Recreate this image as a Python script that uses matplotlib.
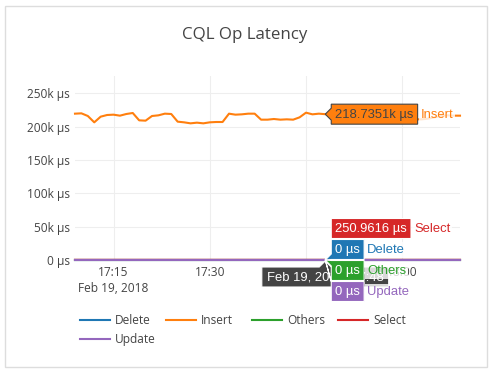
import matplotlib
matplotlib.use('Agg')
import matplotlib.pyplot as plt
import matplotlib.dates as mdates
from matplotlib.patches import Polygon, Rectangle
from matplotlib.lines import Line2D
from matplotlib.transforms import IdentityTransform
import pandas as pd

# data, one point per minute
times = pd.date_range('2018-02-19 17:09', '2018-02-19 18:09', freq='1min').to_pydatetime()

insert = [219500, 220000, 216000, 206500, 215000, 217500, 218000, 216500, 219000, 220500,
          209500, 209000, 216000, 217000, 219500, 219000, 207500, 206500, 205000, 206000,
          205000, 206500, 207000, 207000, 219500, 218000, 218500, 219500, 219500, 210500,
          210500, 211500, 210500, 211000, 210500, 214000, 221000, 218500, 219500, 218735.1,
          218000, 219000, 216000, 212000, 210000, 211000, 213000, 215000, 218000, 220000,
          219000, 217000, 213000, 211000, 211000, 212000, 214000, 216000, 217000, 216500,
          216500]
select = [248.2, 251.0, 249.5, 252.3, 250.1, 247.8, 249.9, 251.4, 250.6, 248.7,
          249.3, 252.0, 250.8, 249.1, 251.7, 250.2, 248.9, 249.6, 251.2, 250.4,
          249.8, 248.5, 250.9, 251.5, 249.2, 250.3, 252.1, 249.7, 250.5, 248.8,
          251.1, 250.0, 249.4, 251.8, 250.7, 248.6, 249.9, 251.3, 250.2, 250.9616,
          249.5, 250.8, 251.6, 249.0, 250.4, 248.9, 251.2, 250.1, 249.7, 250.6,
          251.0, 249.3, 250.5, 248.7, 251.4, 250.0, 249.8, 250.9, 251.1, 249.6,
          250.3]
delete = [0] * len(times)
others = [0] * len(times)
update = [0] * len(times)

names = ['Delete', 'Insert', 'Others', 'Select', 'Update']
series = [delete, insert, others, select, update]
colors = ['#1f77b4', '#ff7f0e', '#2ca02c', '#d62728', '#9467bd']

yticks = [0, 50000, 100000, 150000, 200000, 250000]
ylabels = ['0 µs', '50k µs', '100k µs', '150k µs', '200k µs', '250k µs']
xticks = pd.to_datetime(['2018-02-19 17:15', '2018-02-19 17:30',
                         '2018-02-19 17:45', '2018-02-19 18:00']).to_pydatetime()
xlabels = ['17:15\nFeb 19, 2018', '17:30', '17:45', '18:00']

hover_i = 39
hover_date = 'Feb 19, 2018, 17:48'

TXT = '#444444'
FONT = 'Open Sans'
HFONT = 'Liberation Sans'
W, H = 491, 374

fig = plt.figure(figsize=(W / 100, H / 100), dpi=100)
ax = fig.add_axes([75 / W, 114 / H, 385 / W, 184 / H])

for name, vals, c in zip(names, series, colors):
    ax.plot(times, vals, color=c, lw=1.5, label=name, clip_on=False, zorder=3)

ax.set_xlim(times[0], times[-1])
ax.set_ylim(0, 276000)
ax.set_yticks(yticks)
ax.set_yticklabels(ylabels, fontsize=8.6, color=TXT, family=FONT)
ax.set_xticks(xticks)
ax.set_xticklabels(xlabels, fontsize=8.6, color=TXT, family=FONT, linespacing=1.3)
ax.tick_params(length=0)
ax.tick_params(axis='y', pad=3.5)
ax.tick_params(axis='x', pad=4)
ax.grid(True, color='#eeeeee', lw=0.8)
ax.set_axisbelow(True)
for s in ax.spines.values():
    s.set_visible(False)

fig.text(245 / W, 1 - 35 / H, 'CQL Op Latency', ha='center', va='center',
         fontsize=12.2, color=TXT, family=FONT)

# outer card border
fig.add_artist(Rectangle((4.5, 7.5), 482, 361, transform=IdentityTransform(),
                         fill=False, ec='#dddddd', lw=1))

# legend, drawn by hand (plotly style)
for i, (name, c) in enumerate(zip(names, colors)):
    row, col = divmod(i, 4)
    x = 80 + col * 86
    y = 54 - row * 19
    fig.add_artist(Line2D([x, x + 30], [y, y], color=c, lw=1.5,
                          transform=IdentityTransform()))
    fig.text(x + 35, y, name, transform=IdentityTransform(), ha='left', va='center',
             fontsize=8.6, color=TXT, family=FONT)

# hover labels
ident = IdentityTransform()
renderer = fig.canvas.get_renderer()
hx = mdates.date2num(times[hover_i])


def hover_box(tip, yc, text, fc, tc, ec, name=None, ncolor=None, z=10):
    x0 = tip[0] + 6
    t = fig.text(x0 + 4, yc - 0.5, text, transform=ident, ha='left', va='center',
                 fontsize=9.4, color=tc, family=HFONT, zorder=z + 1)
    bb = t.get_window_extent(renderer)
    x1 = bb.x1 + 4
    top, bot = yc + 10, yc - 10
    a_hi = min(max(tip[1] + 6, bot), top)
    a_lo = min(max(tip[1] - 6, bot), top)
    fig.add_artist(Polygon([tip, (x0, a_lo), (x0, bot), (x1, bot), (x1, top),
                            (x0, top), (x0, a_hi)], closed=True, fc=fc, ec=ec,
                           lw=0.8, transform=ident, zorder=z))
    if name:
        fig.text(x1 + 3, yc - 0.5, name, transform=ident, ha='left', va='center',
                 fontsize=9.4, color=ncolor, family=HFONT, zorder=z + 1,
                 bbox=dict(fc='white', ec='none', alpha=0.8, pad=1.5))


# x hover label below the axis
tip0 = ax.transData.transform((hx, 0))
t = fig.text(tip0[0], tip0[1] - 17, hover_date, transform=ident, ha='center',
             va='center', fontsize=9.4, color='white', family=HFONT, zorder=9)
bb = t.get_window_extent(renderer)
bx0, bx1 = bb.x0 - 5, bb.x1 + 5
btop, bbot = tip0[1] - 7, tip0[1] - 27
fig.add_artist(Polygon([(tip0[0], tip0[1] - 1), (tip0[0] + 6, btop), (bx1, btop),
                        (bx1, bbot), (bx0, bbot), (bx0, btop), (tip0[0] - 6, btop)],
                       closed=True, fc='#444444', ec='white', lw=0.8,
                       transform=ident, zorder=8))

# Insert label at its own point
tipi = ax.transData.transform((hx, insert[hover_i]))
hover_box(tuple(tipi), tipi[1], '218.7351k µs', colors[1], TXT, TXT,
          'Insert', colors[1], z=12)

# stacked labels near zero: Select on top, then Delete, Others, Update
stack = [(3, '250.9616 µs'), (0, '0 µs'), (2, '0 µs'), (4, '0 µs')]
for k, (si, txt) in enumerate(stack):
    yc = tip0[1] + (1.5 - k) * 21
    hover_box(tuple(tip0), yc, txt, colors[si], 'white', 'white',
              names[si], colors[si], z=14 + 2 * k)

fig.savefig('out.png', dpi=100)
